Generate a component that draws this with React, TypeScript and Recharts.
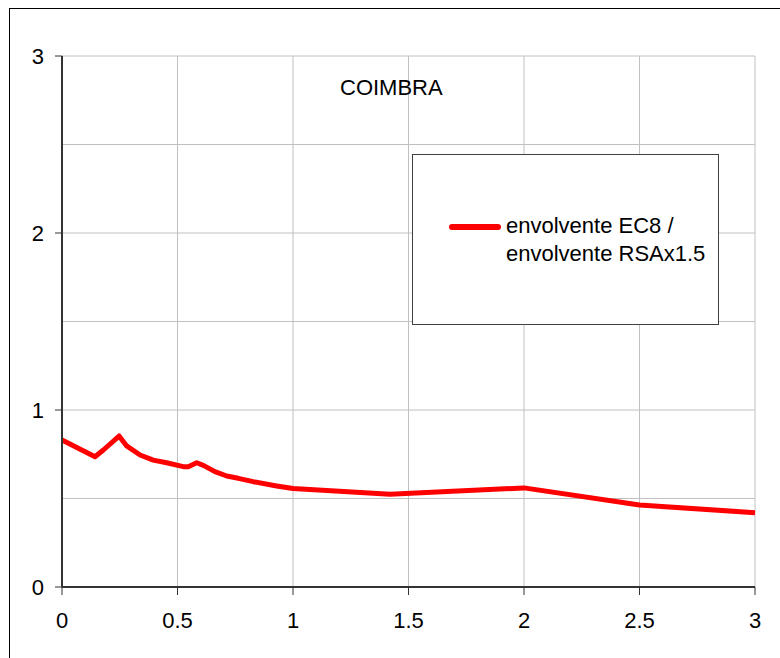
import React from 'react';
import { LineChart, Line, XAxis, YAxis, CartesianGrid } from 'recharts';

// period T (s) and ratio
const periods = [0, 0.143, 0.179, 0.247, 0.28, 0.338, 0.395, 0.453, 0.525, 0.547, 0.583, 0.612, 0.662, 0.713, 0.763, 0.828, 0.929, 1.0, 1.42, 2.0, 2.5, 3.0];
const ratios = [0.83, 0.736, 0.774, 0.853, 0.797, 0.746, 0.717, 0.702, 0.68, 0.68, 0.702, 0.687, 0.652, 0.627, 0.614, 0.595, 0.571, 0.556, 0.524, 0.56, 0.463, 0.42];

const xTicks = [0, 0.5, 1, 1.5, 2, 2.5, 3];
// gridlines every 0.5, labels only on whole numbers
const yTicks = [0, 0.5, 1, 1.5, 2, 2.5, 3];

const title = 'COIMBRA';
const seriesName = ['envolvente EC8 /', 'envolvente RSAx1.5'];

const data = periods.map((t, i) => ({ t, ratio: ratios[i] }));

const font = '"Liberation Sans", Arial, sans-serif';

const YTick = ({ x, y, payload }: any) => {
    if (!Number.isInteger(payload.value)) return null;
    return (
        <g>
            <line x1={x + 11} x2={x + 18} y1={y} y2={y} stroke="#333" />
            <text x={x} y={y} textAnchor="end" dominantBaseline="central" fill="#000" fontSize={22}>
                {payload.value}
            </text>
        </g>
    );
};

const LegendBox = () => (
    <div
        style={{
            position: 'absolute',
            left: 412,
            top: 154,
            width: 305,
            height: 169,
            border: '1px solid #404040',
            background: '#fff',
            fontFamily: font,
            fontSize: 22,
            color: '#000',
            display: 'flex',
            alignItems: 'center',
        }}
    >
        <div style={{ width: 52, height: 6, background: '#ff0000', borderRadius: 3, marginLeft: 36, marginRight: 5, marginTop: -25 }} />
        <div style={{ lineHeight: '28px' }}>
            {seriesName.map((s) => (
                <div key={s}>{s}</div>
            ))}
        </div>
    </div>
);

export default function App() {
    return (
        <div style={{ position: 'absolute', left: 0, top: 0, width: 780, height: 658, overflow: 'hidden', background: '#fff' }}>
            <div style={{ position: 'absolute', left: 9, top: 8, width: 800, height: 700, border: '1px solid #000' }} />
            <LineChart
                width={780}
                height={658}
                data={data}
                margin={{ top: 56, right: 25, left: 12, bottom: 31 }}
                style={{ position: 'absolute', left: 0, top: 0, fontFamily: font }}
            >
                <CartesianGrid stroke="#c0c0c0" strokeWidth={1} />
                <XAxis
                    dataKey="t"
                    type="number"
                    domain={[0, 3]}
                    ticks={xTicks}
                    height={40}
                    tick={{ fill: '#000', fontSize: 22 }}
                    tickSize={8}
                    tickMargin={17}
                    axisLine={{ stroke: '#333', strokeWidth: 2 }}
                    tickLine={{ stroke: '#333' }}
                />
                <YAxis
                    domain={[0, 3]}
                    ticks={yTicks}
                    width={50}
                    tick={<YTick />}
                    tickSize={7}
                    tickMargin={11}
                    axisLine={{ stroke: '#333', strokeWidth: 2 }}
                    tickLine={false}
                />
                <Line
                    type="linear"
                    dataKey="ratio"
                    stroke="#ff0000"
                    strokeWidth={5}
                    strokeLinejoin="round"
                    dot={false}
                    isAnimationActive={false}
                />
            </LineChart>
            <LegendBox />
            <div
                style={{
                    position: 'absolute',
                    left: 340,
                    top: 76,
                    fontFamily: font,
                    fontSize: 22,
                    color: '#000',
                    lineHeight: '24px',
                }}
            >
                {title}
            </div>
        </div>
    );
}
